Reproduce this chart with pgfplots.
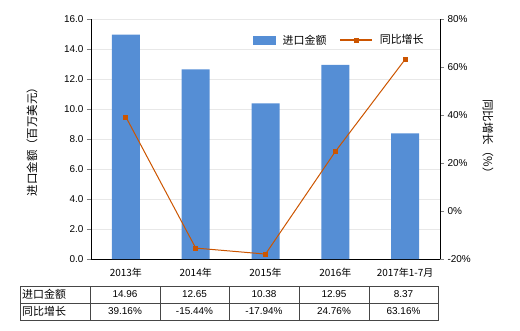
\documentclass[border=0pt]{standalone}
\usepackage{fontspec}
\setmainfont{Liberation Sans}
\newfontfamily\cjk{Noto Sans CJK SC}
\usepackage{pgfplots}
\pgfplotsset{compat=1.18}
\definecolor{barblue}{RGB}{85,142,213}
\definecolor{lineor}{RGB}{204,85,0}
\definecolor{gridgray}{RGB}{232,232,232}
\definecolor{tblgray}{RGB}{70,70,70}
\begin{document}
\fontsize{10}{12}\selectfont
\begin{tikzpicture}[x=1bp,y=1bp]
\useasboundingbox (0,0) rectangle (520,-330);
\begin{axis}[
  at={(91bp,-259bp)}, anchor=south west,
  scale only axis, width=349bp, height=240bp,
  xmin=-0.5, xmax=4.5, ymin=0, ymax=16,
  axis x line*=bottom, axis y line*=left, axis line style={-},
  xtick={0,1,2,3,4},
  xticklabels={{\cjk 2013年},{\cjk 2014年},{\cjk 2015年},{\cjk 2016年},{\cjk 2017年1-7月}},
  xtick style={draw=none},
  ytick={0,2,...,16},
  tick align=outside, major tick length=4bp,
  ymajorgrids, grid style={gridgray},
  /pgf/number format/assume math mode=true,
  yticklabel style={/pgf/number format/fixed,/pgf/number format/fixed zerofill,/pgf/number format/precision=1, font=\fontsize{10}{12}\selectfont},
  xticklabel style={font=\fontsize{10}{12}\selectfont, yshift=-2bp},
  ylabel={\cjk 进口金额（百万美元）},
  ylabel style={at={(axis description cs:-0.169,0.5)}, anchor=center, font=\fontsize{11.5}{13}\selectfont},
]
\addplot[ybar, bar width=28bp, fill=barblue, draw=none] coordinates {(0,14.96) (1,12.65) (2,10.38) (3,12.95) (4,8.37)};
\end{axis}
\begin{axis}[
  at={(91bp,-259bp)}, anchor=south west,
  scale only axis, width=349bp, height=240bp,
  xmin=-0.5, xmax=4.5, ymin=-20, ymax=80,
  axis x line=none, axis y line*=right, axis line style={-},
  ytick={-20,0,...,80},
  tick align=outside, major tick length=4bp,
  /pgf/number format/assume math mode=true,
  yticklabel={\pgfmathprintnumber{\tick}\%},
  yticklabel style={font=\fontsize{10}{12}\selectfont},
  ylabel={\cjk 同比增长（\%）},
  ylabel style={at={(axis description cs:1.1375,0.5)}, anchor=center, rotate=180, font=\fontsize{11.5}{13}\selectfont},
  legend columns=2,
  legend style={draw=none, fill=none, at={(0.712,0.912)}, anchor=center, font=\fontsize{11}{13}\selectfont,
    /tikz/every even column/.append style={column sep=11bp}},
]
\addlegendimage{legend image code/.code={\fill[barblue] (-4bp,-4bp) rectangle (18bp,4bp); \path (23bp,0bp);}}
\addlegendentry{\cjk 进口金额}
\addplot[lineor, line width=1bp, mark=square*, mark size=2bp, mark options={fill=lineor},
  legend image code/.code={\draw[lineor, line width=1.5bp] (-6bp,0bp) -- (26bp,0bp); \fill[lineor] (8bp,-2bp) rectangle (12bp,2bp); \path (31bp,0bp);}]
  coordinates {(0,39.16) (1,-15.44) (2,-17.94) (3,24.76) (4,63.16)};
\addlegendentry{\cjk 同比增长}
\end{axis}
% data table
\draw[tblgray, line width=0.7bp] (20,-286) rectangle (438,-320);
\draw[tblgray, line width=0.7bp] (20,-303) -- (438,-303);
\foreach \xx in {90,160,229,299,369} \draw[tblgray, line width=0.7bp] (\xx,-286) -- (\xx,-320);
\node[anchor=west, inner sep=0pt, font=\fontsize{11}{13}\selectfont] at (22,-294.5) {\cjk 进口金额};
\node[anchor=west, inner sep=0pt, font=\fontsize{11}{13}\selectfont] at (22,-311.5) {\cjk 同比增长};
\foreach \cx/\v in {125/14.96,194.5/12.65,264/10.38,334/12.95,403.5/8.37} \node[inner sep=0pt] at (\cx,-294.5) {\v};
\foreach \cx/\v in {125/39.16\%,194.5/-15.44\%,264/-17.94\%,334/24.76\%,403.5/63.16\%} \node[inner sep=0pt] at (\cx,-311.5) {\v};
\end{tikzpicture}
\end{document}
